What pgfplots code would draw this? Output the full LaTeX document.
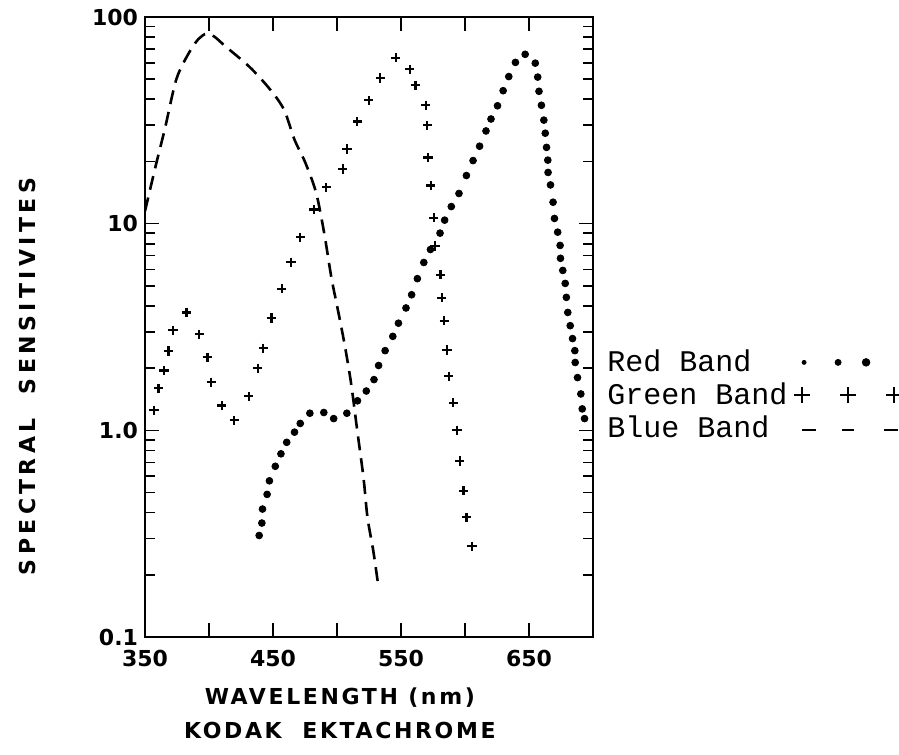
\documentclass[border=0pt]{standalone}
\usepackage{fontspec}
\usepackage{pgfplots}
\pgfplotsset{compat=1.18}
\newfontfamily\tickfont{DejaVu Sans}
\newfontfamily\lblfont[LetterSpace=12]{DejaVu Sans}
\newfontfamily\ylblfont[LetterSpace=20]{DejaVu Sans}
\newfontfamily\legfont{Liberation Mono}

\begin{document}
\begin{tikzpicture}
\begin{axis}[
  name=ax,
  scale only axis, width=224pt, height=310pt,
  ymode=log, xmin=350, xmax=700, ymin=0.1, ymax=100,
  axis line style={line width=1.2pt},
  tick style={black, line width=0.8pt},
  major tick length=7pt, minor tick length=5pt,
  xtick pos=both, ytick pos=both,
  xtick={350,400,...,700},
  xticklabels={350,,450,,550,,650,},
  ytick={0.1,1,10,100},
  yticklabels={0.1,1.0,10,100},
  ticklabel style={font=\tickfont\bfseries\fontsize{11}{12}\selectfont},
  xticklabel style={yshift=-3pt},
  xlabel={WAVELENGTH (nm)\\[4pt]KODAK\ \ EKTACHROME},
  xlabel style={align=center, font=\lblfont\bfseries\fontsize{11}{13}\selectfont,
    at={(axis description cs:0.435,0)}, anchor=north, yshift=-22pt},
  ylabel={SPECTRAL\ \ SENSITIVITES},
  ylabel style={font=\ylblfont\bfseries\fontsize{11}{13}\selectfont,
    at={(axis description cs:-0.263,0.42)}, anchor=center},
  legend style={draw=none, fill=none, at={(axis description cs:1.022,0.47)},
    anchor=north west, font=\legfont\fontsize{15}{15}\selectfont,
    row sep=0pt, inner sep=0pt, column sep=1pt, cells={anchor=west}},
  legend plot pos=right,
]

% red band: dots
\addplot[black, only marks, mark=*, mark size=1.7pt,
  legend image code/.code={
    \fill (1pt,0pt) circle (1.0pt); \fill (18pt,0pt) circle (1.5pt); \fill (32pt,0pt) circle (1.9pt);}]
coordinates {
(439.2,0.31) (441.3,0.356) (441.8,0.416) (445.4,0.49) (447.2,0.57) (451.8,0.67)
(456.2,0.77) (460.7,0.875) (466.8,0.98) (471.3,1.08) (478.8,1.21) (489.7,1.22)
(497.4,1.14) (507.7,1.21) (516,1.39) (522.9,1.55) (528.9,1.76) (532.5,2.06)
(537.6,2.43) (543.6,2.85) (548,3.30) (553.9,3.91) (558.3,4.53) (562.8,5.42)
(567.8,6.49) (573,7.5) (580.5,9.0) (584.1,10.4) (589.3,12.1) (595.3,14.0)
(601.1,17.1) (606.3,20.2) (611.4,23.7) (616.4,28.1) (620.3,32.1) (625.4,37.2)
(629.8,44) (634.2,51.5) (639.4,60.3) (647,66) (654.9,59.8) (656.8,51.2)
(657.8,43.7) (659.7,37.4) (661.6,31.7) (662.7,27.4) (663.7,23.4) (664.7,20.3)
(664.9,17.7) (666.8,15.4) (668.8,12.7) (669.9,10.6) (672.4,9.1) (674.3,7.85)
(674.6,6.8) (676.4,5.94) (678.3,5.14) (679.2,4.40) (680.3,3.72) (682.2,3.21)
(684,2.78) (685.8,2.43) (686.1,2.13) (687.9,1.80) (690.5,1.50) (691.6,1.27)
(693.4,1.14)
};

% green band: crosses
\addplot[black, only marks, mark=+, mark size=2.3pt, mark options={line width=1.1pt},
  legend image code/.code={
    \draw[line width=0.8pt] (-4pt,0pt) -- (4pt,0pt) (0pt,-4pt) -- (0pt,4pt)
      (19pt,0pt) -- (27pt,0pt) (23pt,-4pt) -- (23pt,4pt)
      (42pt,0pt) -- (50pt,0pt) (46pt,-4pt) -- (46pt,4pt);}]
coordinates {
(357.1,1.25) (360.6,1.6) (364.9,1.95) (368.4,2.42) (371.9,3.05) (382.4,3.72)
(392.4,2.92) (398.9,2.26) (401.8,1.71) (410,1.32) (419.7,1.12) (431,1.46)
(438.2,2.0) (442.4,2.5) (448.8,3.5) (456.9,4.85) (464.1,6.5) (471.4,8.6)
(482,11.7) (491.5,15) (504.4,18.4) (507.8,23) (515.9,31.2) (524.7,39.5)
(533.7,50.7) (545.8,63.6) (556.9,55.8) (561.3,46.7) (569.3,37.4) (570.5,29.9)
(571.1,20.9) (573.3,15.3) (575.5,10.7) (576.5,7.8) (580.8,5.66) (581.8,4.38)
(583.8,3.39) (585.9,2.45) (587.3,1.83) (590.9,1.36) (593.8,1.0) (596,0.71)
(598.9,0.51) (601.1,0.38) (605.5,0.275)
};

% blue band: dashed curve
\addplot[black, line width=1.3pt, dash pattern=on 7pt off 4pt, smooth, tension=0.5,
  legend image code/.code={
    \draw[line width=0.9pt] (0pt,-1pt) -- (10pt,-1pt) (20pt,-1pt) -- (26pt,-1pt) (41pt,-1pt) -- (50pt,-1pt);}]
coordinates {
(350,11.5) (358.4,19.1) (365.5,28.7) (374.6,50.2) (385,68.2) (392,78.5)
(398,83) (404,80.5) (413,72) (432,57.1) (448,44.4) (458.7,35.5) (466.8,25.5)
(475.3,19.7) (483.7,14.1) (490,9.0) (495.6,5.5) (501.8,3.54) (506.3,2.53)
(511,1.69) (515.8,1.0) (520.7,0.59) (523.8,0.38) (528.4,0.26) (532.1,0.18)
};

\legend{Red Band,Green Band,Blue Band}
\end{axis}
\pgfresetboundingbox
\path[use as bounding box] ([xshift=-72.5pt,yshift=-58.5pt]ax.south west)
  rectangle ([xshift=153pt,yshift=8.5pt]ax.north east);
\end{tikzpicture}
\end{document}
